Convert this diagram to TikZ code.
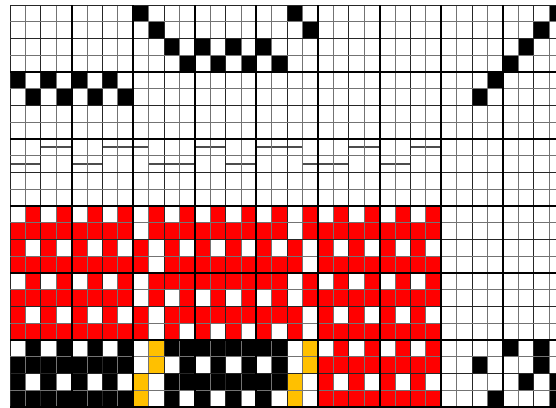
\documentclass[tikz,border=0pt]{standalone}
\usepackage{tikz}

\definecolor{hilo}{RGB}{255,0,0}
\definecolor{trama}{RGB}{255,192,0}

\begin{document}
\begin{tikzpicture}[x=11.55pt, y=-12.5625pt,
  fino/.style={line width=0.6pt, draw=black!85},
  claro/.style={line width=0.6pt, draw=black!55},
  grueso/.style={line width=1.5pt, draw=black},
  barra/.style={line width=1.4pt, draw=black!70},
  marca/.style={fill=black}]
\clip (-0.6494,-0.2985) rectangle (35.4545,24.0);
\fill[white] (-0.6494,-0.2985) rectangle (35.4545,24.0);
% threading
\foreach \c/\r in {8/0,18/0,35/0, 9/1,19/1,34/1, 10/2,12/2,14/2,16/2,33/2,
                   11/3,13/3,15/3,17/3,32/3, 0/4,2/4,4/4,6/4,31/4, 1/5,3/5,5/5,7/5,30/5}
  \fill[marca] (\c,\r) rectangle ++(1,1);
% profile bars
\foreach \c in {2,3,6,7,8,12,13,16,17,18,22,23,26,27}
  \draw[barra] (\c,8.5) -- ++(1,0);
\foreach \c in {0,1,4,5,9,10,11,14,15,19,20,21,24,25}
  \draw[barra] (\c,9.5) -- ++(1,0);
% drawdown
\fill[hilo] (0,12) rectangle (28,20);
\fill[black] (0,20) rectangle (8,24);
\fill[black] (10,20) rectangle (18,24);
\fill[trama] (8,20) rectangle (10,24);
\fill[trama] (18,20) rectangle (20,24);
\fill[hilo] (20,20) rectangle (28,24);
\foreach \c in {0,2,...,26} \fill[white] (\c,12) rectangle ++(1,1);
\foreach \c in {1,3,...,27} \fill[white] (\c,14) rectangle ++(1,1);
\foreach \c in {8,18} \fill[white] (\c,13) rectangle ++(1,1);
\foreach \c in {9,19} \fill[white] (\c,15) rectangle ++(1,1);
\foreach \b in {16,20} {
  \foreach \c in {0,2,4,6,8,18,20,22,24,26} \fill[white] (\c,\b) rectangle ++(1,1);
  \foreach \c in {8,10,12,14,16,18} \fill[white] (\c,\b+1) rectangle ++(1,1);
  \foreach \c in {1,3,5,7,9,19,21,23,25,27} \fill[white] (\c,\b+2) rectangle ++(1,1);
  \foreach \c in {9,11,13,15,17,19} \fill[white] (\c,\b+3) rectangle ++(1,1);
}
% treadling
\foreach \c/\r in {32/20,34/20, 30/21,34/21, 33/22,35/22, 31/23,35/23}
  \fill[marca] (\c,\r) rectangle ++(1,1);
% grid
\foreach \i in {1,3,...,35} \draw[claro] (\i,0) -- (\i,24);
\foreach \i in {0,2,...,36} \draw[fino] (\i,0) -- (\i,24);
\foreach \j in {1,3,...,23} \draw[claro] (0,\j) -- (36,\j);
\foreach \j in {0,2,...,24} \draw[fino] (0,\j) -- (36,\j);
\foreach \i in {4,8,...,36} \draw[grueso] (\i,0) -- (\i,24);
\foreach \j in {4,8,...,24} \draw[grueso] (0,\j) -- (36,\j);
\end{tikzpicture}
\end{document}
